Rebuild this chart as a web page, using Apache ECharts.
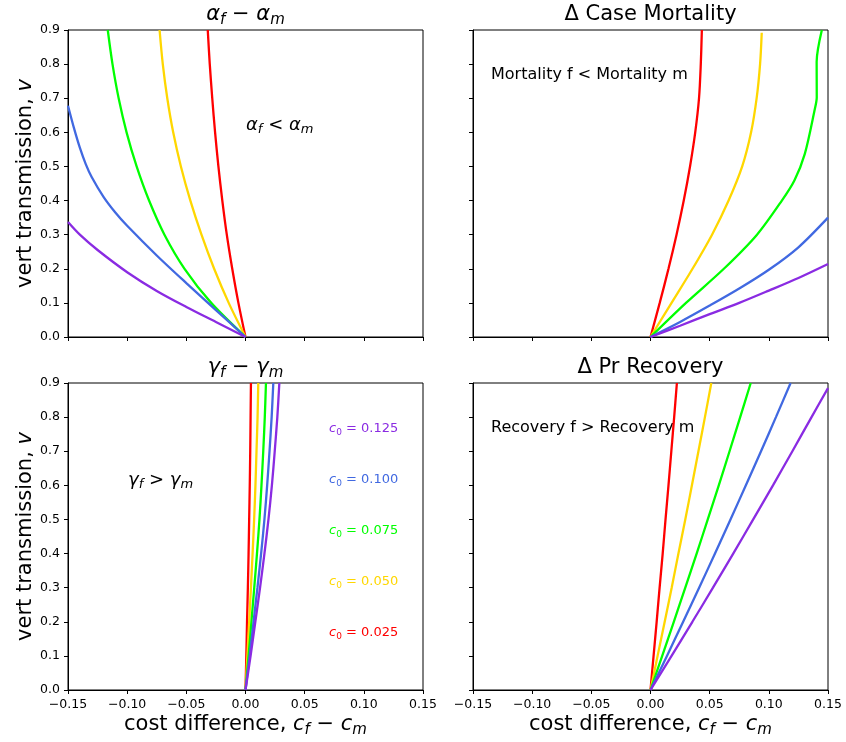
<!DOCTYPE html>
<html>
<head>
<meta charset="utf-8">
<script src="https://cdn.jsdelivr.net/npm/echarts@6/dist/echarts.min.js"></script>
<style>
  html, body { margin: 0; padding: 0; background: #ffffff; }
  #chart { width: 846px; height: 742px; }
</style>
</head>
<body>
<div id="chart"></div>
<script>
// c0 levels, one curve per level in every panel
const c0Levels = ['0.125', '0.100', '0.075', '0.050', '0.025'];
const lineColors = ['#8a2be2', '#4169e1', '#00ff00', '#ffd700', '#ff0000'];

// alpha_f - alpha_m = 0 boundary (cost difference, vertical transmission)
const alphaCost = [
  [-0.15, -0.14, -0.125, -0.1, -0.075, -0.05, -0.025, 0],
  [-0.15, -0.145, -0.14, -0.135, -0.13, -0.12, -0.11, -0.1, -0.075, -0.05, -0.025, 0],
  [0, -0.029, -0.0515, -0.0685, -0.0815, -0.092, -0.1005, -0.1072, -0.1124, -0.1164],
  [0, -0.0142, -0.0265, -0.0372, -0.0466, -0.0546, -0.0611, -0.0661, -0.0699, -0.0726],
  [0, -0.006, -0.0112, -0.0158, -0.0196, -0.0229, -0.0257, -0.0281, -0.0302, -0.0319]
];
const alphaV = [
  [0.337, 0.3, 0.255, 0.19, 0.135, 0.088, 0.044, 0],
  [0.678, 0.613, 0.555, 0.507, 0.469, 0.411, 0.365, 0.326, 0.239, 0.158, 0.079, 0],
  [0, 0.1, 0.2, 0.3, 0.4, 0.5, 0.6, 0.7, 0.8, 0.9],
  [0, 0.1, 0.2, 0.3, 0.4, 0.5, 0.6, 0.7, 0.8, 0.9],
  [0, 0.1, 0.2, 0.3, 0.4, 0.5, 0.6, 0.7, 0.8, 0.9]
];

// case mortality difference = 0 boundary
const mortCost = [
  [0, 0.025, 0.05, 0.075, 0.1, 0.125, 0.15],
  [0, 0.025, 0.05, 0.075, 0.1, 0.125, 0.15],
  [0, 0.03, 0.062, 0.09, 0.111, 0.1216, 0.1304, 0.1386, 0.1405, 0.1404, 0.1448],
  [0, 0.0178, 0.0355, 0.052, 0.066, 0.0775, 0.085, 0.0897, 0.0926, 0.094],
  [0, 0.0078, 0.0152, 0.022, 0.0281, 0.0334, 0.0378, 0.041, 0.0425, 0.0434]
];
const mortV = [
  [0, 0.033, 0.067, 0.1, 0.136, 0.173, 0.214],
  [0, 0.044, 0.092, 0.142, 0.197, 0.263, 0.35],
  [0, 0.1, 0.2, 0.3, 0.4, 0.459, 0.537, 0.664, 0.703, 0.806, 0.9],
  [0, 0.1, 0.2, 0.3, 0.4, 0.5, 0.6, 0.7, 0.8, 0.892],
  [0, 0.1, 0.2, 0.3, 0.4, 0.5, 0.6, 0.7, 0.8, 0.9]
];

// gamma_f - gamma_m = 0 boundary
const gammaCost = [
  [0, 0.0043, 0.0083, 0.0123, 0.016, 0.0194, 0.0223, 0.0247, 0.0269, 0.0286],
  [0, 0.0035, 0.0068, 0.0101, 0.0132, 0.016, 0.0183, 0.0203, 0.0221, 0.0235],
  [0, 0.0026, 0.005, 0.0074, 0.0097, 0.0118, 0.0135, 0.015, 0.0163, 0.0173],
  [0, 0.0016, 0.0031, 0.0046, 0.006, 0.0073, 0.0084, 0.0093, 0.0102, 0.0108],
  [0, 0.0007, 0.0013, 0.002, 0.0026, 0.0031, 0.0036, 0.004, 0.0043, 0.0046]
];
const gammaV = [
  [0, 0.1, 0.2, 0.3, 0.4, 0.5, 0.6, 0.7, 0.8, 0.9],
  [0, 0.1, 0.2, 0.3, 0.4, 0.5, 0.6, 0.7, 0.8, 0.9],
  [0, 0.1, 0.2, 0.3, 0.4, 0.5, 0.6, 0.7, 0.8, 0.9],
  [0, 0.1, 0.2, 0.3, 0.4, 0.5, 0.6, 0.7, 0.8, 0.9],
  [0, 0.1, 0.2, 0.3, 0.4, 0.5, 0.6, 0.7, 0.8, 0.9]
];

// probability-of-recovery difference = 0 boundary
const recovCost = [
  [0, 0.0178, 0.0354, 0.0528, 0.0699, 0.0868, 0.1035, 0.1199, 0.1361, 0.15],
  [0, 0.0139, 0.0276, 0.0411, 0.0545, 0.0676, 0.0806, 0.0934, 0.106, 0.1184],
  [0, 0.0099, 0.0197, 0.0294, 0.039, 0.0484, 0.0577, 0.0668, 0.0758, 0.0847],
  [0, 0.006, 0.012, 0.0179, 0.0236, 0.0294, 0.035, 0.0405, 0.046, 0.0514],
  [0, 0.0026, 0.0052, 0.0077, 0.0103, 0.0127, 0.0152, 0.0176, 0.02, 0.0223]
];
const recovV = [
  [0, 0.1, 0.2, 0.3, 0.4, 0.5, 0.6, 0.7, 0.8, 0.885],
  [0, 0.1, 0.2, 0.3, 0.4, 0.5, 0.6, 0.7, 0.8, 0.9],
  [0, 0.1, 0.2, 0.3, 0.4, 0.5, 0.6, 0.7, 0.8, 0.9],
  [0, 0.1, 0.2, 0.3, 0.4, 0.5, 0.6, 0.7, 0.8, 0.9],
  [0, 0.1, 0.2, 0.3, 0.4, 0.5, 0.6, 0.7, 0.8, 0.9]
];

const FONT = 'DejaVu Sans';

// panel boxes: [left, top]
const panels = [
  { left: 68, top: 30, cost: alphaCost, v: alphaV, xLabels: false, yLabels: true },
  { left: 473, top: 30, cost: mortCost, v: mortV, xLabels: false, yLabels: false },
  { left: 68, top: 383, cost: gammaCost, v: gammaV, xLabels: true, yLabels: true },
  { left: 473, top: 383, cost: recovCost, v: recovV, xLabels: true, yLabels: false }
];
const PW = 355, PH = 307;

function fmtX(val) {
  const r = Math.round(val * 100) / 100;
  if (Math.abs(r) < 1e-9) return '0.00';
  return (r < 0 ? '\u2212' : '') + Math.abs(r).toFixed(2);
}

const grids = [], xAxes = [], yAxes = [], series = [];
panels.forEach((p, k) => {
  grids.push({
    left: p.left, top: p.top, width: PW, height: PH,
    show: true, borderColor: '#000', borderWidth: 1, backgroundColor: '#fff'
  });
  xAxes.push({
    type: 'value', gridIndex: k, min: -0.15, max: 0.15, interval: 0.05,
    axisLine: { show: true, onZero: false, lineStyle: { color: '#000', width: 1 } },
    axisTick: { show: true, length: 4, lineStyle: { color: '#000' } },
    splitLine: { show: false },
    axisLabel: {
      show: p.xLabels, margin: 8, color: '#000', fontFamily: FONT, fontSize: 12.5,
      formatter: fmtX, showMinLabel: true, showMaxLabel: true
    }
  });
  yAxes.push({
    type: 'value', gridIndex: k, min: 0, max: 0.9, interval: 0.1,
    axisLine: { show: true, onZero: false, lineStyle: { color: '#000', width: 1 } },
    axisTick: { show: true, length: 4, lineStyle: { color: '#000' } },
    splitLine: { show: false },
    axisLabel: {
      show: p.yLabels, margin: 8, color: '#000', fontFamily: FONT, fontSize: 12.5,
      formatter: (val) => val.toFixed(1), showMinLabel: true, showMaxLabel: true
    }
  });
  // draw from smallest c0 up so the larger-c0 curves sit on top
  for (let i = c0Levels.length - 1; i >= 0; i--) {
    series.push({
      type: 'line', xAxisIndex: k, yAxisIndex: k,
      name: 'c0 = ' + c0Levels[i],
      data: p.cost[i].map((c, j) => [c, p.v[i][j]]),
      showSymbol: false, symbol: 'none', smooth: 0.3, clip: true,
      lineStyle: { color: lineColors[i], width: 2.3 },
      emphasis: { disabled: true }, silent: true
    });
  }
});

// rich-text helpers for math-style labels (italic symbols with subscripts)
function mathRich(size, color) {
  const lh = Math.round(size * 1.25);
  return {
    i: { fontFamily: FONT, fontStyle: 'italic', fontSize: size, lineHeight: lh, fill: color },
    n: { fontFamily: FONT, fontSize: size, lineHeight: lh, fill: color },
    s: { fontFamily: FONT, fontStyle: 'italic', fontSize: Math.round(size * 0.7), lineHeight: Math.round(size * 0.8), verticalAlign: 'bottom', fill: color },
    u: { fontFamily: FONT, fontSize: Math.round(size * 0.7), lineHeight: Math.round(size * 0.8), verticalAlign: 'bottom', fill: color }
  };
}
function txt(x, y, text, size, color, align, extra) {
  return Object.assign({
    type: 'text', x: x, y: y, silent: true,
    style: {
      text: text, rich: mathRich(size, color),
      fontFamily: FONT, fontSize: size, fill: color,
      align: align, textAlign: align,
      verticalAlign: 'middle', textVerticalAlign: 'middle'
    }
  }, extra || {});
}

const graphics = [
  // panel titles
  txt(245.5, 15, '{i|\u03b1}{s|f}{n| \u2212 }{i|\u03b1}{s|m}', 21, '#000', 'center'),
  txt(650.5, 15, '{n|\u0394 Case Mortality}', 21, '#000', 'center'),
  txt(245.5, 368, '{i|\u03b3}{s|f}{n| \u2212 }{i|\u03b3}{s|m}', 21, '#000', 'center'),
  txt(650.5, 368, '{n|\u0394 Pr Recovery}', 21, '#000', 'center'),
  // in-panel annotations
  txt(246, 125, '{i|\u03b1}{s|f}{n| < }{i|\u03b1}{s|m}', 18, '#000', 'left'),
  txt(491, 75, '{n|Mortality f < Mortality m}', 16, '#000', 'left'),
  txt(128, 480, '{i|\u03b3}{s|f}{n| > }{i|\u03b3}{s|m}', 18, '#000', 'left'),
  txt(491, 428, '{n|Recovery f > Recovery m}', 16, '#000', 'left'),
  // axis titles
  txt(26, 183.5, '{n|vert transmission, }{i|v}', 21, '#000', 'center', { rotation: Math.PI / 2 }),
  txt(26, 536.5, '{n|vert transmission, }{i|v}', 21, '#000', 'center', { rotation: Math.PI / 2 }),
  txt(245.5, 725, '{n|cost difference, }{i|c}{s|f}{n| \u2212 }{i|c}{s|m}', 21, '#000', 'center'),
  txt(650.5, 725, '{n|cost difference, }{i|c}{s|f}{n| \u2212 }{i|c}{s|m}', 21, '#000', 'center')
];
// c0 key inside the gamma panel
const keyY = [429, 480, 531, 582, 633];
c0Levels.forEach((lev, i) => {
  graphics.push(txt(329, keyY[i], '{i|c}{u|0}{n| = ' + lev + '}', 13, lineColors[i], 'left'));
});

const chart = echarts.init(document.getElementById('chart'), null, { renderer: 'canvas' });
chart.setOption({
  backgroundColor: '#ffffff',
  animation: false,
  grid: grids,
  xAxis: xAxes,
  yAxis: yAxes,
  series: series,
  graphic: { elements: graphics }
});
</script>
</body>
</html>
